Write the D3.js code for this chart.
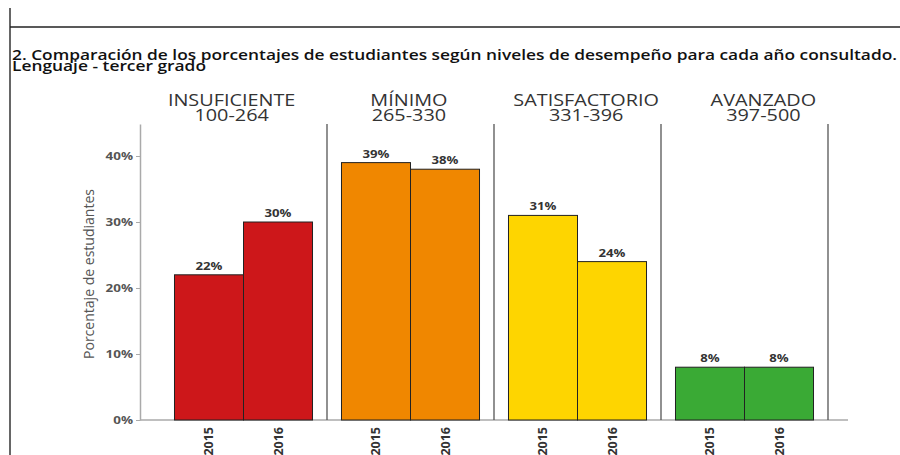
<!DOCTYPE html>
<html>
<head>
<meta charset="utf-8">
<script src="https://cdn.jsdelivr.net/npm/d3@7"></script>
<style>
  body { margin: 0; background: #fff; }
  svg { display: block; font-family: "Open Sans", sans-serif; }
</style>
</head>
<body>
<div id="chart"></div>
<script>
// data
var levels = ["INSUFICIENTE", "MÍNIMO", "SATISFACTORIO", "AVANZADO"];
var ranges = ["100-264", "265-330", "331-396", "397-500"];
var years = ["2015", "2016"];
var values2015 = [22, 39, 31, 8];
var values2016 = [30, 38, 24, 8];
var colors = ["#cd171a", "#f08700", "#fed500", "#3aaa35"];
var yTicks = [0, 10, 20, 30, 40];

var width = 900, height = 455;
var sx = 1.28; // the original image is stretched horizontally

var svg = d3.select("#chart").append("svg")
    .attr("width", width)
    .attr("height", height);

// page frame
svg.append("line").attr("x1", 10).attr("x2", 10).attr("y1", 8).attr("y2", height)
    .attr("stroke", "#333").attr("stroke-width", 1.5);
svg.append("line").attr("x1", 10).attr("x2", width).attr("y1", 27).attr("y2", 27)
    .attr("stroke", "#222").attr("stroke-width", 1.5);

// title
svg.append("text").attr("x", 12).attr("y", 60)
    .attr("font-size", 13.5).attr("font-weight", 600).attr("fill", "#111")
    .attr("textLength", 885).attr("lengthAdjust", "spacingAndGlyphs")
    .text("2. Comparación de los porcentajes de estudiantes según niveles de desempeño para cada año consultado.");
svg.append("text").attr("x", 12).attr("y", 71)
    .attr("font-size", 13.5).attr("font-weight", 600).attr("fill", "#111")
    .attr("textLength", 194).attr("lengthAdjust", "spacingAndGlyphs")
    .text("Lenguaje - tercer grado");

var yTop = 124, yBottom = 420;

var y = d3.scaleLinear().domain([0, 44.85]).range([yBottom, yTop]);

// facets
var facet = d3.scaleBand().domain(levels).range([160, 828]);
var xYear = d3.scaleBand().domain(years).range([0, facet.bandwidth()]).paddingOuter(0.21).paddingInner(0);

// header scale (headers sit slightly off the panels in the original)
var header = d3.scaleBand().domain(levels).range([143, 852]);

// y axis
var yAxis = d3.axisLeft(y).tickValues(yTicks).tickFormat(function(d) { return d + "%"; }).tickSize(4).tickSizeOuter(0);
var gy = svg.append("g").attr("transform", "translate(140,0)").call(yAxis);
gy.select(".domain").attr("stroke", "#aaa").attr("stroke-width", 1.5);
gy.selectAll(".tick line").attr("stroke", "#aaa");
gy.selectAll(".tick text")
    .attr("font-size", 10.5).attr("font-weight", 700)
    .attr("fill", "#555").attr("font-family", "Open Sans, sans-serif")
    .attr("x", 0)
    .attr("transform", "translate(-7,0) scale(" + sx + ",1)");

svg.append("text")
    .attr("transform", "translate(94," + ((yTop + yBottom) / 2 + 2) + ") rotate(-90) scale(1.04,1.1)")
    .attr("text-anchor", "middle")
    .attr("font-size", 13.5).attr("fill", "#555")
    .text("Porcentaje de estudiantes");

// x baseline
svg.append("line").attr("x1", 140).attr("x2", 848).attr("y1", yBottom).attr("y2", yBottom)
    .attr("stroke", "#aaa").attr("stroke-width", 1.5);

// panel separators
svg.selectAll(".sep").data(levels).enter().append("line")
    .attr("class", "sep")
    .attr("x1", function(d) { return facet(d) + facet.bandwidth(); })
    .attr("x2", function(d) { return facet(d) + facet.bandwidth(); })
    .attr("y1", yTop).attr("y2", yBottom)
    .attr("stroke", "#555").attr("stroke-width", 1.3);

// headers
var hd = svg.selectAll(".hdr").data(levels).enter().append("g")
    .attr("class", "hdr")
    .attr("transform", function(d) { return "translate(" + (header(d) + header.bandwidth() / 2) + ",0) scale(" + sx + ",1)"; });
hd.append("text").attr("text-anchor", "middle").attr("y", 106)
    .attr("font-size", 15.5).attr("fill", "#333")
    .text(function(d) { return d; });
hd.append("text").attr("text-anchor", "middle").attr("y", 121)
    .attr("font-size", 15.5).attr("fill", "#333")
    .text(function(d, i) { return ranges[i]; });

// bars
var rows = [];
levels.forEach(function(l, i) {
    rows.push({ level: l, year: "2015", value: values2015[i], color: colors[i] });
    rows.push({ level: l, year: "2016", value: values2016[i], color: colors[i] });
});

svg.selectAll(".bar").data(rows).enter().append("rect")
    .attr("class", "bar")
    .attr("x", function(d) { return facet(d.level) + xYear(d.year); })
    .attr("width", xYear.bandwidth())
    .attr("y", function(d) { return y(d.value); })
    .attr("height", function(d) { return yBottom - y(d.value); })
    .attr("fill", function(d) { return d.color; })
    .attr("stroke", "#222").attr("stroke-width", 1);

svg.selectAll(".lbl").data(rows).enter().append("text")
    .attr("class", "lbl")
    .attr("transform", function(d) {
        var cx = facet(d.level) + xYear(d.year) + xYear.bandwidth() / 2;
        return "translate(" + cx + "," + (y(d.value) - 5) + ") scale(" + 1.2 + ",1)";
    })
    .attr("text-anchor", "middle")
    .attr("font-size", 11).attr("font-weight", 700).attr("fill", "#333")
    .text(function(d) { return d.value + "%"; });

// year labels
svg.selectAll(".yr").data(rows).enter().append("text")
    .attr("class", "yr")
    .attr("transform", function(d) {
        var cx = facet(d.level) + xYear(d.year) + xYear.bandwidth() / 2;
        return "translate(" + (cx + 4.5) + "," + (yBottom + 7) + ") rotate(-90)";
    })
    .attr("text-anchor", "end")
    .attr("font-size", 12.5).attr("font-weight", 700).attr("fill", "#333")
    .text(function(d) { return d.year; });
</script>
</body>
</html>
